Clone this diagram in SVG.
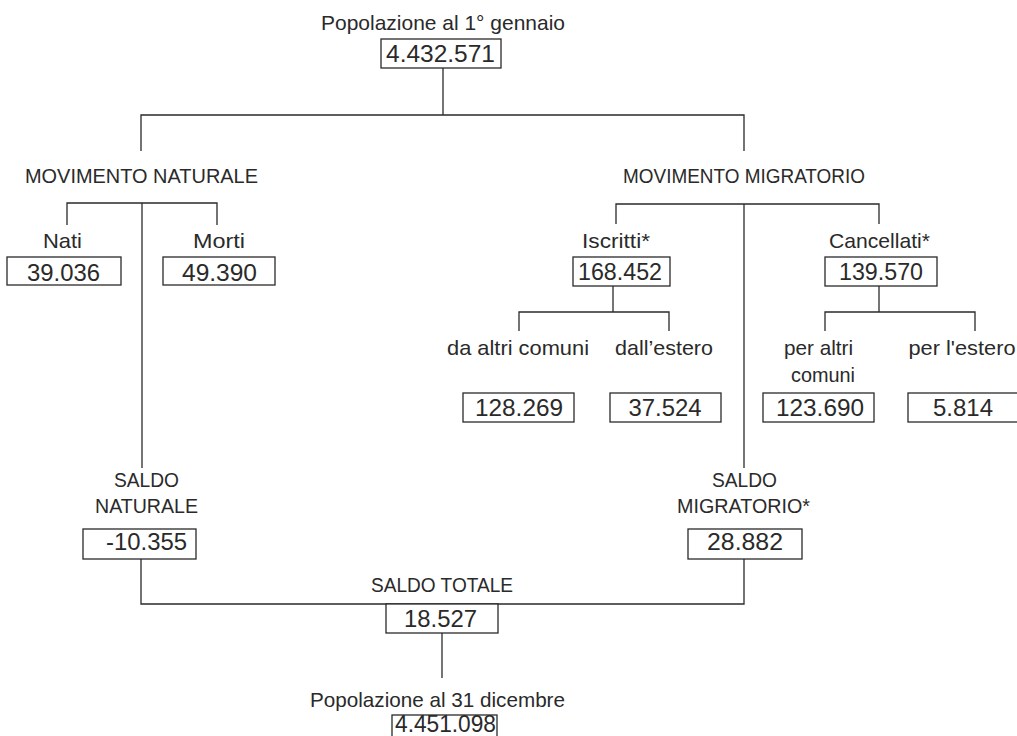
<svg xmlns="http://www.w3.org/2000/svg" width="1017" height="736" viewBox="0 0 1017 736">
  <style>
    .lbl { font-family: "Liberation Sans", Arial, sans-serif; font-size: 21px; fill: #2a2a2a; text-anchor: middle; }
    .num { font-family: "Liberation Sans", Arial, sans-serif; font-size: 24px; fill: #2a2a2a; text-anchor: middle; }
    .box { fill: #ffffff; stroke: #2a2a2a; stroke-width: 1.3; }
    .wire { fill: none; stroke: #2a2a2a; stroke-width: 1.3; }
  </style>
  <rect width="1017" height="736" fill="#ffffff"/>

  <!-- connectors -->
  <g id="connectors" class="wire">
    <path d="M443,68 V115"/>
    <path d="M141,151 V115 H744 V151"/>
    <path d="M67,225 V203 H217 V225"/>
    <path d="M142,203 V468"/>
    <path d="M616,224 V204 H879 V224"/>
    <path d="M744,204 V468"/>
    <path d="M613,286 V312"/>
    <path d="M519,331 V312 H669 V331"/>
    <path d="M879,286 V312"/>
    <path d="M825,331 V312 H975 V331"/>
    <path d="M141,559 V604 H744 V559"/>
    <path d="M442,633 V678"/>
  </g>

  <!-- population on 1 January -->
  <g id="pop-start">
    <text class="lbl" x="443" y="30" textLength="244" lengthAdjust="spacingAndGlyphs">Popolazione al 1° gennaio</text>
    <rect class="box" x="381" y="39" width="120" height="29"/>
    <text class="num" x="440.5" y="62" textLength="109" lengthAdjust="spacingAndGlyphs">4.432.571</text>
  </g>

  <g id="mov-naturale">
    <text class="lbl" x="141.5" y="183" textLength="233" lengthAdjust="spacingAndGlyphs">MOVIMENTO NATURALE</text>
  </g>
  <g id="mov-migratorio">
    <text class="lbl" x="744" y="183" textLength="242" lengthAdjust="spacingAndGlyphs">MOVIMENTO MIGRATORIO</text>
  </g>

  <g id="nati">
    <text class="lbl" x="62.5" y="248" textLength="39" lengthAdjust="spacingAndGlyphs">Nati</text>
    <rect class="box" x="7" y="257" width="114" height="28"/>
    <text class="num" x="63.5" y="281" textLength="73" lengthAdjust="spacingAndGlyphs">39.036</text>
  </g>
  <g id="morti">
    <text class="lbl" x="219" y="248" textLength="52" lengthAdjust="spacingAndGlyphs">Morti</text>
    <rect class="box" x="163" y="257" width="112" height="28"/>
    <text class="num" x="219.5" y="281" textLength="75" lengthAdjust="spacingAndGlyphs">49.390</text>
  </g>

  <g id="iscritti">
    <text class="lbl" x="616" y="248" textLength="68" lengthAdjust="spacingAndGlyphs">Iscritti*</text>
    <rect class="box" x="573" y="257" width="97" height="29"/>
    <text class="num" x="620" y="280" textLength="84" lengthAdjust="spacingAndGlyphs">168.452</text>
  </g>
  <g id="cancellati">
    <text class="lbl" x="879.5" y="248" textLength="101" lengthAdjust="spacingAndGlyphs">Cancellati*</text>
    <rect class="box" x="825" y="257" width="112" height="29"/>
    <text class="num" x="881" y="280" textLength="84" lengthAdjust="spacingAndGlyphs">139.570</text>
  </g>

  <g id="da-altri-comuni">
    <text class="lbl" x="518" y="355" textLength="142" lengthAdjust="spacingAndGlyphs">da altri comuni</text>
    <rect class="box" x="463" y="393" width="111" height="29"/>
    <text class="num" x="519" y="416" textLength="88" lengthAdjust="spacingAndGlyphs">128.269</text>
  </g>
  <g id="dall-estero">
    <text class="lbl" x="664" y="355" textLength="98" lengthAdjust="spacingAndGlyphs">dall’estero</text>
    <rect class="box" x="610" y="393" width="111" height="29"/>
    <text class="num" x="665" y="416" textLength="73" lengthAdjust="spacingAndGlyphs">37.524</text>
  </g>
  <g id="per-altri-comuni">
    <text class="lbl" x="818.5" y="355" textLength="69" lengthAdjust="spacingAndGlyphs">per altri</text>
    <text class="lbl" x="823" y="382" textLength="64" lengthAdjust="spacingAndGlyphs">comuni</text>
    <rect class="box" x="763" y="393" width="111" height="29"/>
    <text class="num" x="820" y="416" textLength="88" lengthAdjust="spacingAndGlyphs">123.690</text>
  </g>
  <g id="per-l-estero">
    <text class="lbl" x="962" y="355" textLength="107" lengthAdjust="spacingAndGlyphs">per l'estero</text>
    <rect class="box" x="908" y="393" width="112" height="29"/>
    <text class="num" x="963" y="416" textLength="60" lengthAdjust="spacingAndGlyphs">5.814</text>
  </g>

  <g id="saldo-naturale">
    <text class="lbl" x="146.5" y="487" textLength="65" lengthAdjust="spacingAndGlyphs">SALDO</text>
    <text class="lbl" x="146.5" y="513" textLength="103" lengthAdjust="spacingAndGlyphs">NATURALE</text>
    <rect class="box" x="83" y="529" width="113" height="30"/>
    <text class="num" x="146.5" y="550" textLength="81" lengthAdjust="spacingAndGlyphs">-10.355</text>
  </g>
  <g id="saldo-migratorio">
    <text class="lbl" x="744.5" y="487" textLength="65" lengthAdjust="spacingAndGlyphs">SALDO</text>
    <text class="lbl" x="743.5" y="513" textLength="133" lengthAdjust="spacingAndGlyphs">MIGRATORIO*</text>
    <rect class="box" x="688" y="529" width="114" height="30"/>
    <text class="num" x="745" y="550" textLength="76" lengthAdjust="spacingAndGlyphs">28.882</text>
  </g>

  <g id="saldo-totale">
    <text class="lbl" x="442" y="592" textLength="142" lengthAdjust="spacingAndGlyphs">SALDO TOTALE</text>
    <rect class="box" x="386" y="604" width="112" height="29"/>
    <text class="num" x="440.5" y="627" textLength="73" lengthAdjust="spacingAndGlyphs">18.527</text>
  </g>

  <!-- population on 31 December -->
  <g id="pop-end">
    <text class="lbl" x="437.5" y="707" textLength="255" lengthAdjust="spacingAndGlyphs">Popolazione al 31 dicembre</text>
    <rect class="box" x="392" y="715" width="105" height="30"/>
    <text class="num" x="445.5" y="732" style="font-size:23px" textLength="101" lengthAdjust="spacingAndGlyphs">4.451.098</text>
  </g>
</svg>
